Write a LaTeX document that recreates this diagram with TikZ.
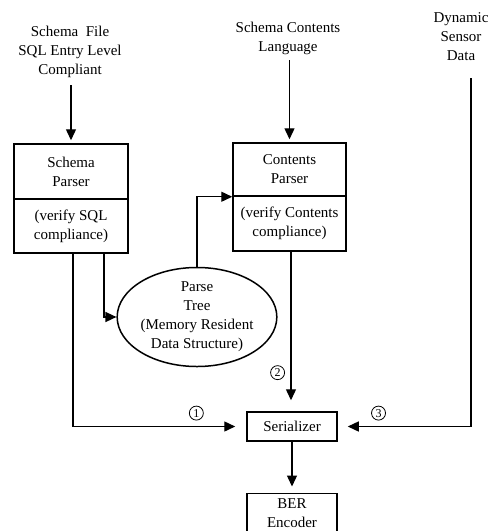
\documentclass[tikz,border=0pt]{standalone}
\usepackage{fontspec}
\setmainfont{Liberation Serif}
\usetikzlibrary{arrows.meta,shapes.geometric}
\begin{document}
\begin{tikzpicture}[x=1pt,y=-1pt,
  every node/.style={font=\fontsize{15}{19}\selectfont, align=center},
  box/.style={draw, line width=1.5pt, rectangle, inner sep=0pt},
  txt/.style={inner sep=0pt},
  flow/.style={line width=1.4pt, -{Triangle[length=11pt,width=10pt]}},
  tag/.style={draw, circle, line width=0.8pt, inner sep=0pt, minimum size=14pt,
    font=\fontsize{12}{12}\selectfont}]
\useasboundingbox (0,0) rectangle (491,531);

% sources
\node[txt] (src1) at (70,52) {Schema~~File\\SQL Entry Level\\Compliant};
\node[txt] (src2) at (288,38.5) {Schema Contents\\Language};
\node[txt] (src3) at (461,37) {Dynamic\\Sensor\\Data};

% parsers
\node[box, minimum width=114pt, minimum height=55pt] (schemaTop) at (71,171.5) {Schema\\Parser};
\node[box, minimum width=114pt, minimum height=54pt] (schemaBot) at (71,226) {(verify SQL\\compliance)};
\node[box, minimum width=113pt, minimum height=53pt] (contTop) at (289.5,169.5) {Contents\\Parser};
\node[box, minimum width=113pt, minimum height=55pt] (contBot) at (289.5,223.5) {(verify Contents\\compliance)};

% parse tree
\node[draw, ellipse, line width=1.5pt, minimum width=148pt, minimum height=99pt, inner sep=0pt]
  (tree) at (197,317) {Parse\\Tree\\(Memory Resident\\Data Structure)};

% serializer and encoder
\node[box, minimum width=90pt, minimum height=29pt] (ser) at (292,426.5) {Serializer};
\node[box, minimum width=90pt, minimum height=40pt, anchor=north] (ber) at (292,492.5) {BER\\Encoder};

\coordinate (dynTop) at (471,78);

% connectors
\draw[flow, shorten <=7pt, shorten >=3pt] (src1.south -| schemaTop.north) -- (schemaTop.north);
\draw[flow, shorten <=5pt, shorten >=3pt] (src2.south -| contTop.north) -- (contTop.north);
\draw[flow] ([xshift=33pt]schemaBot.south) |- (tree.west);
\draw[flow] (tree.north) |- (contTop.south west);
\draw[flow, shorten >=11pt] ([xshift=2pt]schemaBot.south) |- (ser.west)
  node[tag, pos=0.856, above=6pt] {1};
\draw[flow, shorten >=11pt] ([xshift=1.5pt]contBot.south) -- ([xshift=1.5pt]contBot.south |- ser.north)
  node[tag, pos=0.758, left=6pt] {2};
\draw[flow, shorten >=10pt] (dynTop) |- (ser.east)
  node[tag, pos=0.847, above=6pt] {3};
\draw[flow, shorten >=6pt] (ser.south) -- (ber.north);
\end{tikzpicture}
\end{document}
